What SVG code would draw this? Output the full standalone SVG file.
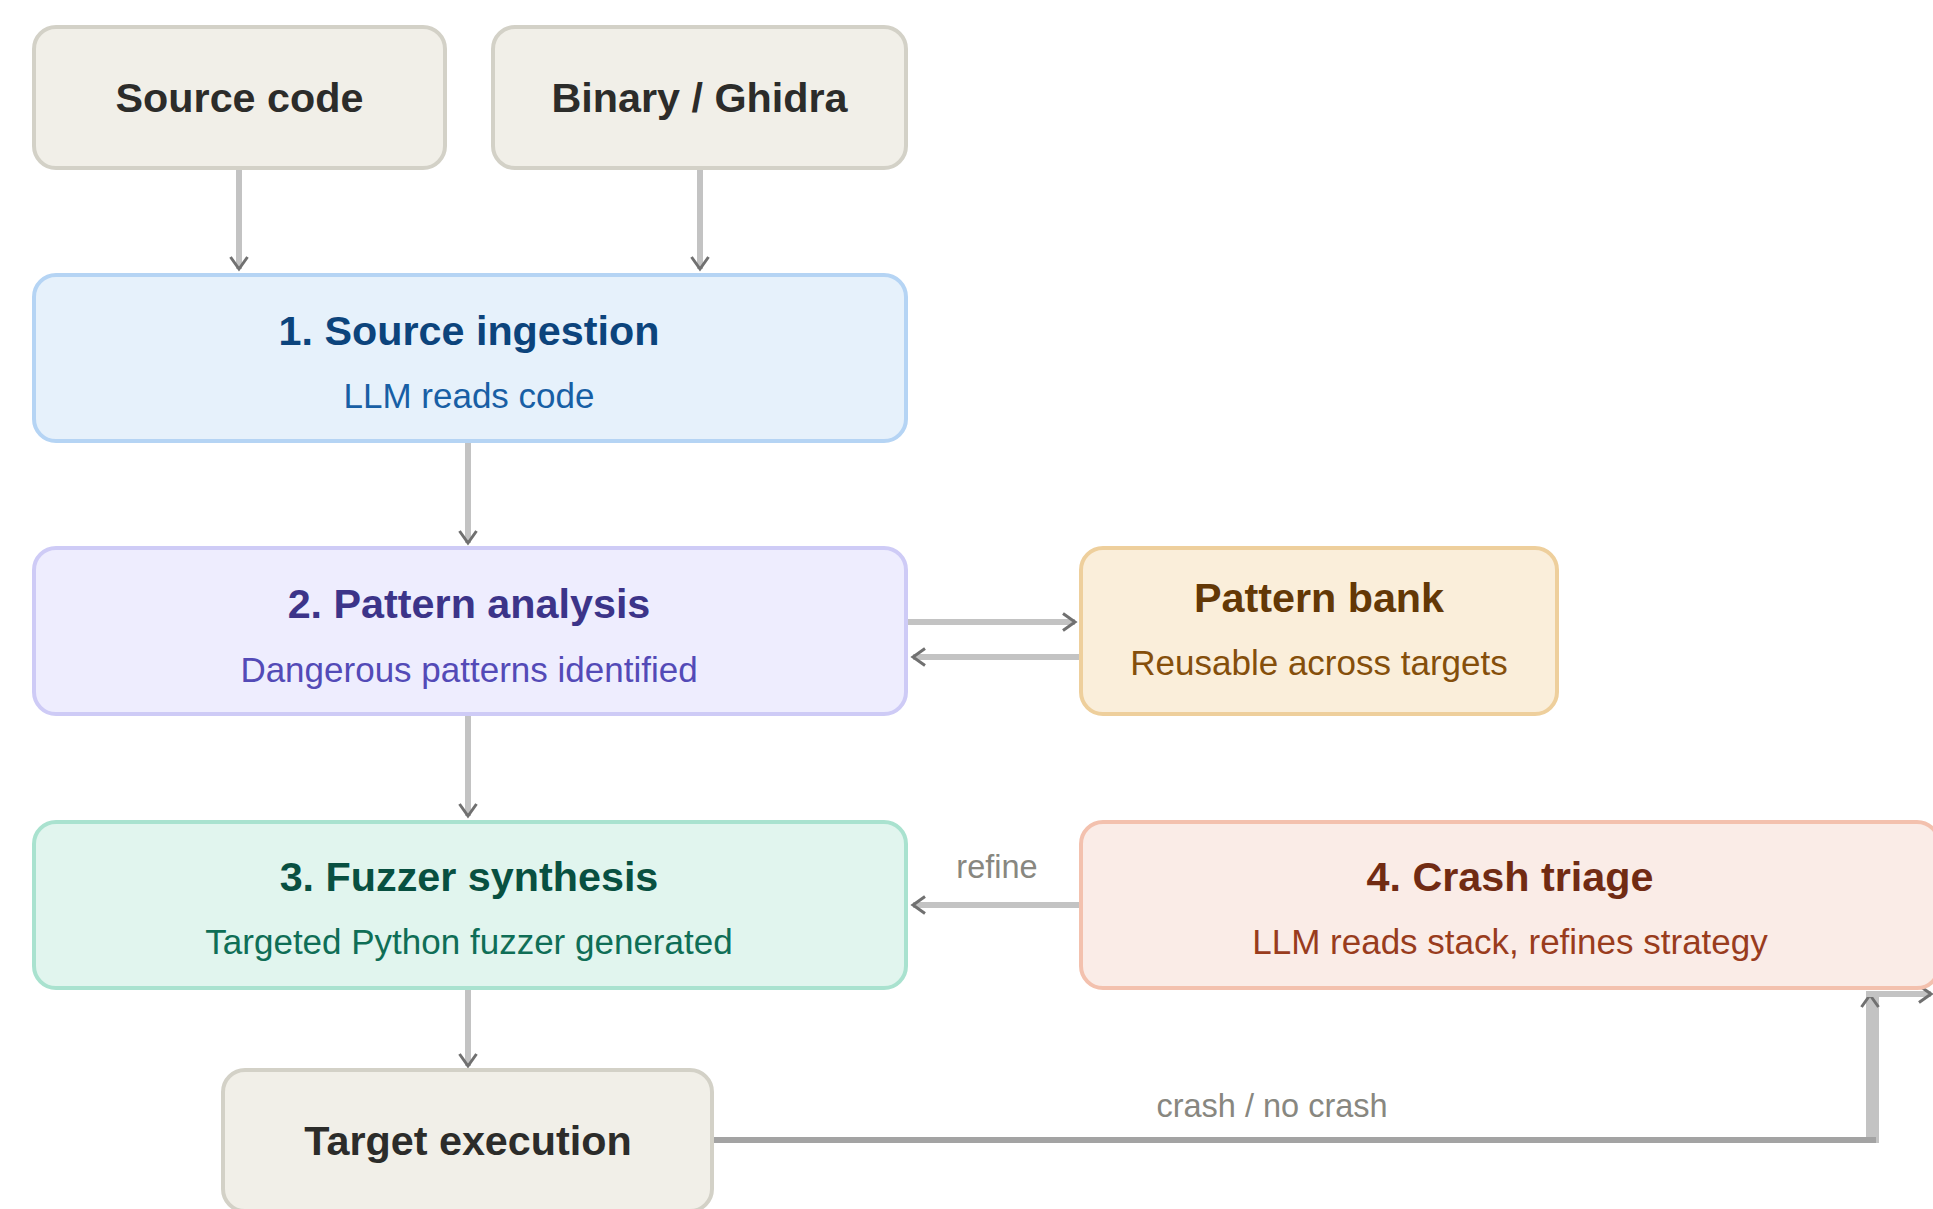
<svg xmlns="http://www.w3.org/2000/svg" width="1933" height="1209" viewBox="0 0 1933 1209">
<style>
  .t { font-family: "Liberation Sans", Arial, sans-serif; text-anchor: middle; }
  .title { font-size: 41.3px; font-weight: bold; }
  .sub { font-size: 35px; }
  .lbl { font-size: 32.5px; fill: #888780; }
  .box { stroke-width: 4; }
  .gray rect { fill: #f1efe8; stroke: #d3d1c7; }
  .gray text { fill: #2c2c2a; }
  .blue rect { fill: #e6f1fb; stroke: #b5d4f4; }
  .blue .title { fill: #0c447c; } .blue .sub { fill: #185fa5; }
  .purple rect { fill: #eeedfe; stroke: #cecbf6; }
  .purple .title { fill: #3c3489; } .purple .sub { fill: #534ab7; }
  .teal rect { fill: #e1f5ee; stroke: #a9e2cf; }
  .teal .title { fill: #085041; } .teal .sub { fill: #0f6e56; }
  .amber rect { fill: #faeeda; stroke: #eecf9c; }
  .amber .title { fill: #633806; } .amber .sub { fill: #854f0b; }
  .coral rect { fill: #faece7; stroke: #f3c1ae; }
  .coral .title { fill: #712b13; } .coral .sub { fill: #993c1d; }
  .edge { fill: none; stroke: #c3c3c3; stroke-width: 6; }
  .edge.dark { stroke: #a3a3a3; }
</style>
<defs>
  <marker id="arr" viewBox="0 0 20 20" refX="17" refY="10" markerWidth="20" markerHeight="20" markerUnits="userSpaceOnUse" orient="auto">
    <path d="M5,1.5 L17,10 L5,18.5" fill="none" stroke="#707070" stroke-width="3"/>
  </marker>
</defs>
<rect width="1933" height="1209" fill="#ffffff"/>

<g id="connectors">
  <line class="edge" x1="239" y1="168" x2="239" y2="269" marker-end="url(#arr)"/>
  <line class="edge" x1="700" y1="168" x2="700" y2="269" marker-end="url(#arr)"/>
  <line class="edge" x1="468" y1="441" x2="468" y2="543" marker-end="url(#arr)"/>
  <line class="edge" x1="468" y1="714" x2="468" y2="816" marker-end="url(#arr)"/>
  <line class="edge" x1="468" y1="988" x2="468" y2="1066" marker-end="url(#arr)"/>
  <line class="edge" x1="906" y1="622" x2="1075" y2="622" marker-end="url(#arr)"/>
  <line class="edge" x1="1081" y1="657" x2="913" y2="657" marker-end="url(#arr)"/>
  <line class="edge" x1="1081" y1="905" x2="913" y2="905" marker-end="url(#arr)"/>
  <text class="t lbl" x="997" y="878">refine</text>
  <rect x="1866" y="995" width="13" height="148" fill="#c3c3c3"/>
  <line class="edge dark" x1="712" y1="1140" x2="1876" y2="1140"/>
  <line x1="1870" y1="1000" x2="1870" y2="995" stroke="#c3c3c3" stroke-width="6" marker-end="url(#arr)"/>
  <line class="edge" x1="1866" y1="994" x2="1931" y2="994" marker-end="url(#arr)"/>
  <text class="t lbl" x="1272" y="1117">crash / no crash</text>
</g>

<g id="source-code" class="gray">
  <rect class="box" x="34" y="27" width="411" height="141" rx="22"/>
  <text class="t title" x="239.5" y="112">Source code</text>
</g>
<g id="binary-ghidra" class="gray">
  <rect class="box" x="493" y="27" width="413" height="141" rx="22"/>
  <text class="t title" x="699.5" y="112">Binary / Ghidra</text>
</g>
<g id="source-ingestion" class="blue">
  <rect class="box" x="34" y="275" width="872" height="166" rx="22"/>
  <text class="t title" x="469" y="345">1. Source ingestion</text>
  <text class="t sub" x="469" y="408">LLM reads code</text>
</g>
<g id="pattern-analysis" class="purple">
  <rect class="box" x="34" y="548" width="872" height="166" rx="22"/>
  <text class="t title" x="469" y="618">2. Pattern analysis</text>
  <text class="t sub" x="469" y="682">Dangerous patterns identified</text>
</g>
<g id="pattern-bank" class="amber">
  <rect class="box" x="1081" y="548" width="476" height="166" rx="22"/>
  <text class="t title" x="1319" y="612">Pattern bank</text>
  <text class="t sub" x="1319" y="675">Reusable across targets</text>
</g>
<g id="fuzzer-synthesis" class="teal">
  <rect class="box" x="34" y="822" width="872" height="166" rx="22"/>
  <text class="t title" x="469" y="891">3. Fuzzer synthesis</text>
  <text class="t sub" x="469" y="954">Targeted Python fuzzer generated</text>
</g>
<g id="crash-triage" class="coral">
  <rect class="box" x="1081" y="822" width="858" height="166" rx="22"/>
  <text class="t title" x="1510" y="891">4. Crash triage</text>
  <text class="t sub" x="1510" y="954">LLM reads stack, refines strategy</text>
</g>
<g id="target-execution" class="gray">
  <rect class="box" x="223" y="1070" width="489" height="141" rx="22"/>
  <text class="t title" x="468" y="1155">Target execution</text>
</g>
</svg>
